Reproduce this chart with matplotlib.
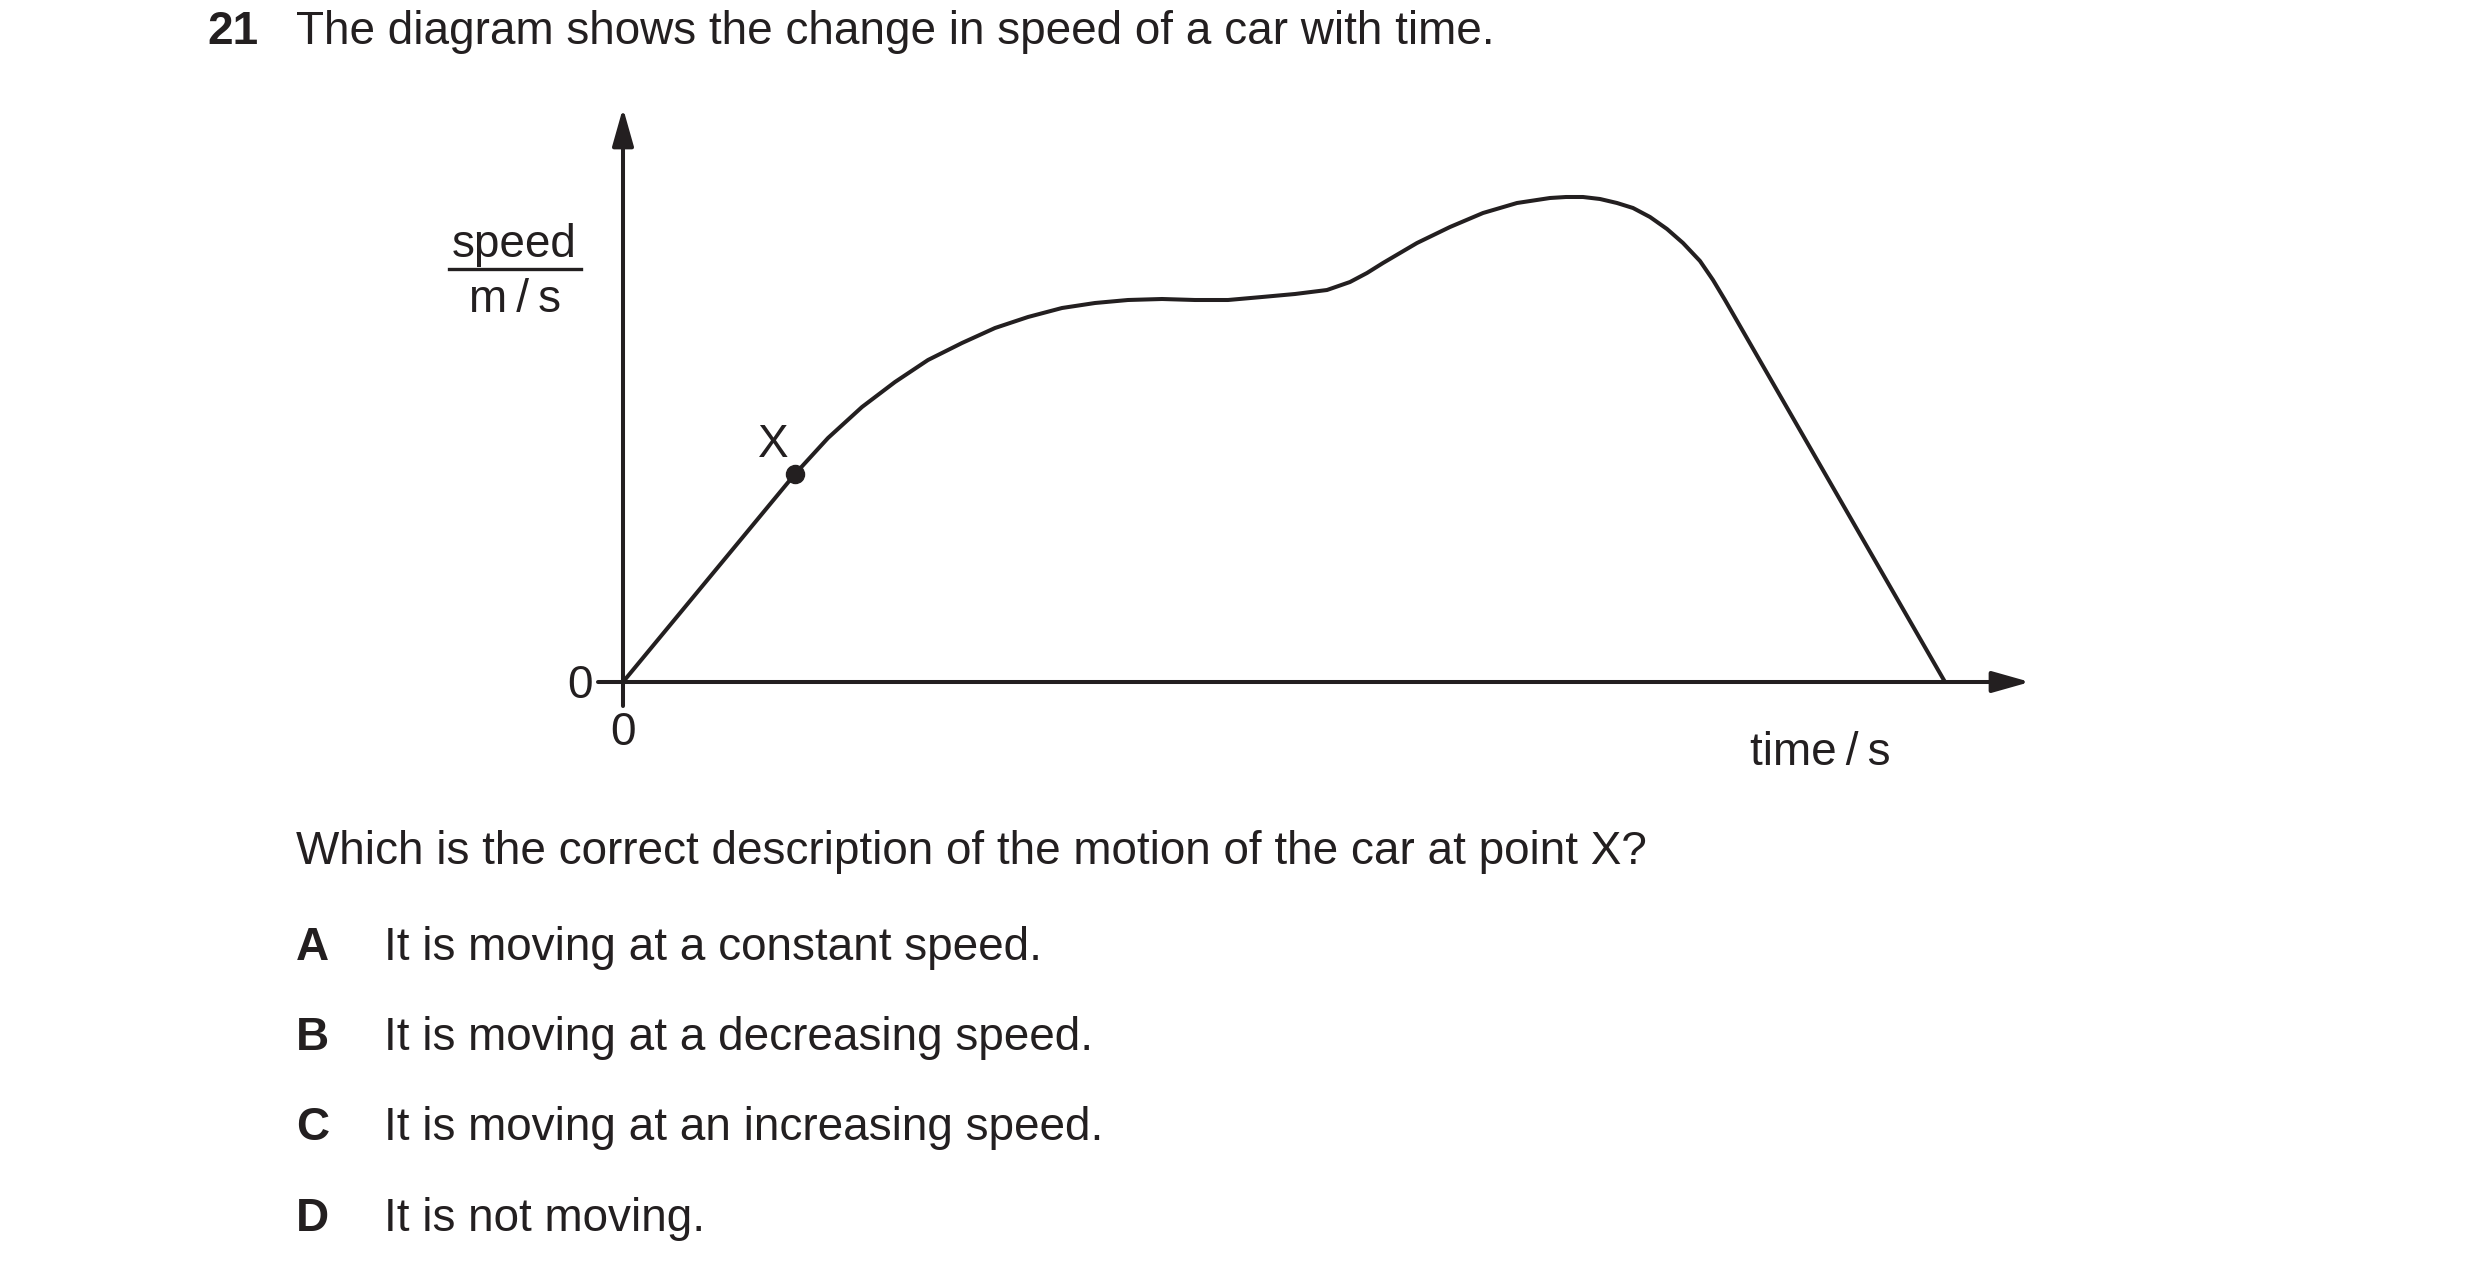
import matplotlib
matplotlib.use("Agg")
import matplotlib.pyplot as plt

plt.rcParams['font.family'] = ['Liberation Sans', 'DejaVu Sans']

ink = '#231f20'

# speed-time curve (arbitrary units)
time = [0.0, 1.72, 2.05, 2.39, 2.72, 3.05, 3.39, 3.72, 4.05, 4.39, 4.72, 5.05,
        5.39, 5.72, 6.05, 6.39, 6.72, 7.04, 7.27, 7.44, 7.60, 7.94, 8.27, 8.60,
        8.94, 9.27, 9.43, 9.60, 9.77, 9.94, 10.10, 10.27, 10.44, 10.60, 10.77,
        10.90, 11.02, 13.22]
speed = [0.0, 2.08, 2.44, 2.75, 3.00, 3.22, 3.39, 3.54, 3.65, 3.74, 3.79, 3.82,
         3.83, 3.82, 3.82, 3.85, 3.88, 3.92, 4.00, 4.09, 4.19, 4.39, 4.55, 4.69,
         4.79, 4.84, 4.85, 4.85, 4.83, 4.79, 4.74, 4.65, 4.53, 4.39, 4.21,
         4.02, 3.82, 0.0]

point_x = (1.72, 2.08)

# axis extents
t_axis = (-0.25, 14.07)
v_axis = (-0.24, 5.74)

title_num = '21'
title = 'The diagram shows the change in speed of a car with time.'
question = 'Which is the correct description of the motion of the car at point X?'
letters = ['A', 'B', 'C', 'D']
options = ['It is moving at a constant speed.',
           'It is moving at a decreasing speed.',
           'It is moving at an increasing speed.',
           'It is not moving.']

fs = 33

fig = plt.figure(figsize=(24.8, 12.8), dpi=100)
ax = fig.add_axes([0, 0, 1, 1])
ax.set_xlim(-6.23, 18.57)
ax.set_ylim(-5.98, 6.82)
ax.axis('off')

# axes with arrow heads
arrow = dict(arrowstyle='-|>,head_length=2.3,head_width=0.65', mutation_scale=10,
             lw=2.9, color=ink, shrinkA=0, shrinkB=0)
ax.annotate('', xy=(t_axis[1], 0), xytext=(t_axis[0], 0), arrowprops=arrow)
ax.annotate('', xy=(0, v_axis[1]), xytext=(0, v_axis[0]), arrowprops=arrow)

# the curve
ax.plot(time, speed, color=ink, lw=2.9, solid_joinstyle='round', solid_capstyle='round')
ax.plot(*point_x, 'o', color=ink, markersize=13)
ax.text(1.50, 2.25, 'X', fontsize=fs, color=ink, ha='center', va='baseline')

# axis labels
ax.text(-1.09, 4.25, 'speed', fontsize=fs, color=ink, ha='center', va='baseline')
ax.plot([-1.74, -0.42], [4.13, 4.13], color=ink, lw=2.4)
ax.text(-1.08, 3.70, 'm\u2009/\u2009s', fontsize=fs, color=ink, ha='center', va='baseline')
ax.text(11.97, -0.83, 'time\u2009/\u2009s', fontsize=fs, color=ink, ha='center', va='baseline')
ax.text(-0.43, -0.165, '0', fontsize=fs, color=ink, ha='center', va='baseline')
ax.text(0.0, -0.63, '0', fontsize=fs, color=ink, ha='center', va='baseline')

# question text
ax.text(-4.16, 6.38, title_num, fontsize=fs, color=ink, weight='bold', ha='left', va='baseline')
ax.text(-3.27, 6.38, title, fontsize=fs, color=ink, ha='left', va='baseline')
ax.text(-3.27, -1.82, question, fontsize=fs, color=ink, ha='left', va='baseline')

opt_y = [-2.78, -3.68, -4.58, -5.49]
for letter, text, y in zip(letters, options, opt_y):
    ax.text(-3.27, y, letter, fontsize=fs, color=ink, weight='bold', ha='left', va='baseline')
    ax.text(-2.39, y, text, fontsize=fs, color=ink, ha='left', va='baseline')

fig.savefig('out.png', dpi=100)
